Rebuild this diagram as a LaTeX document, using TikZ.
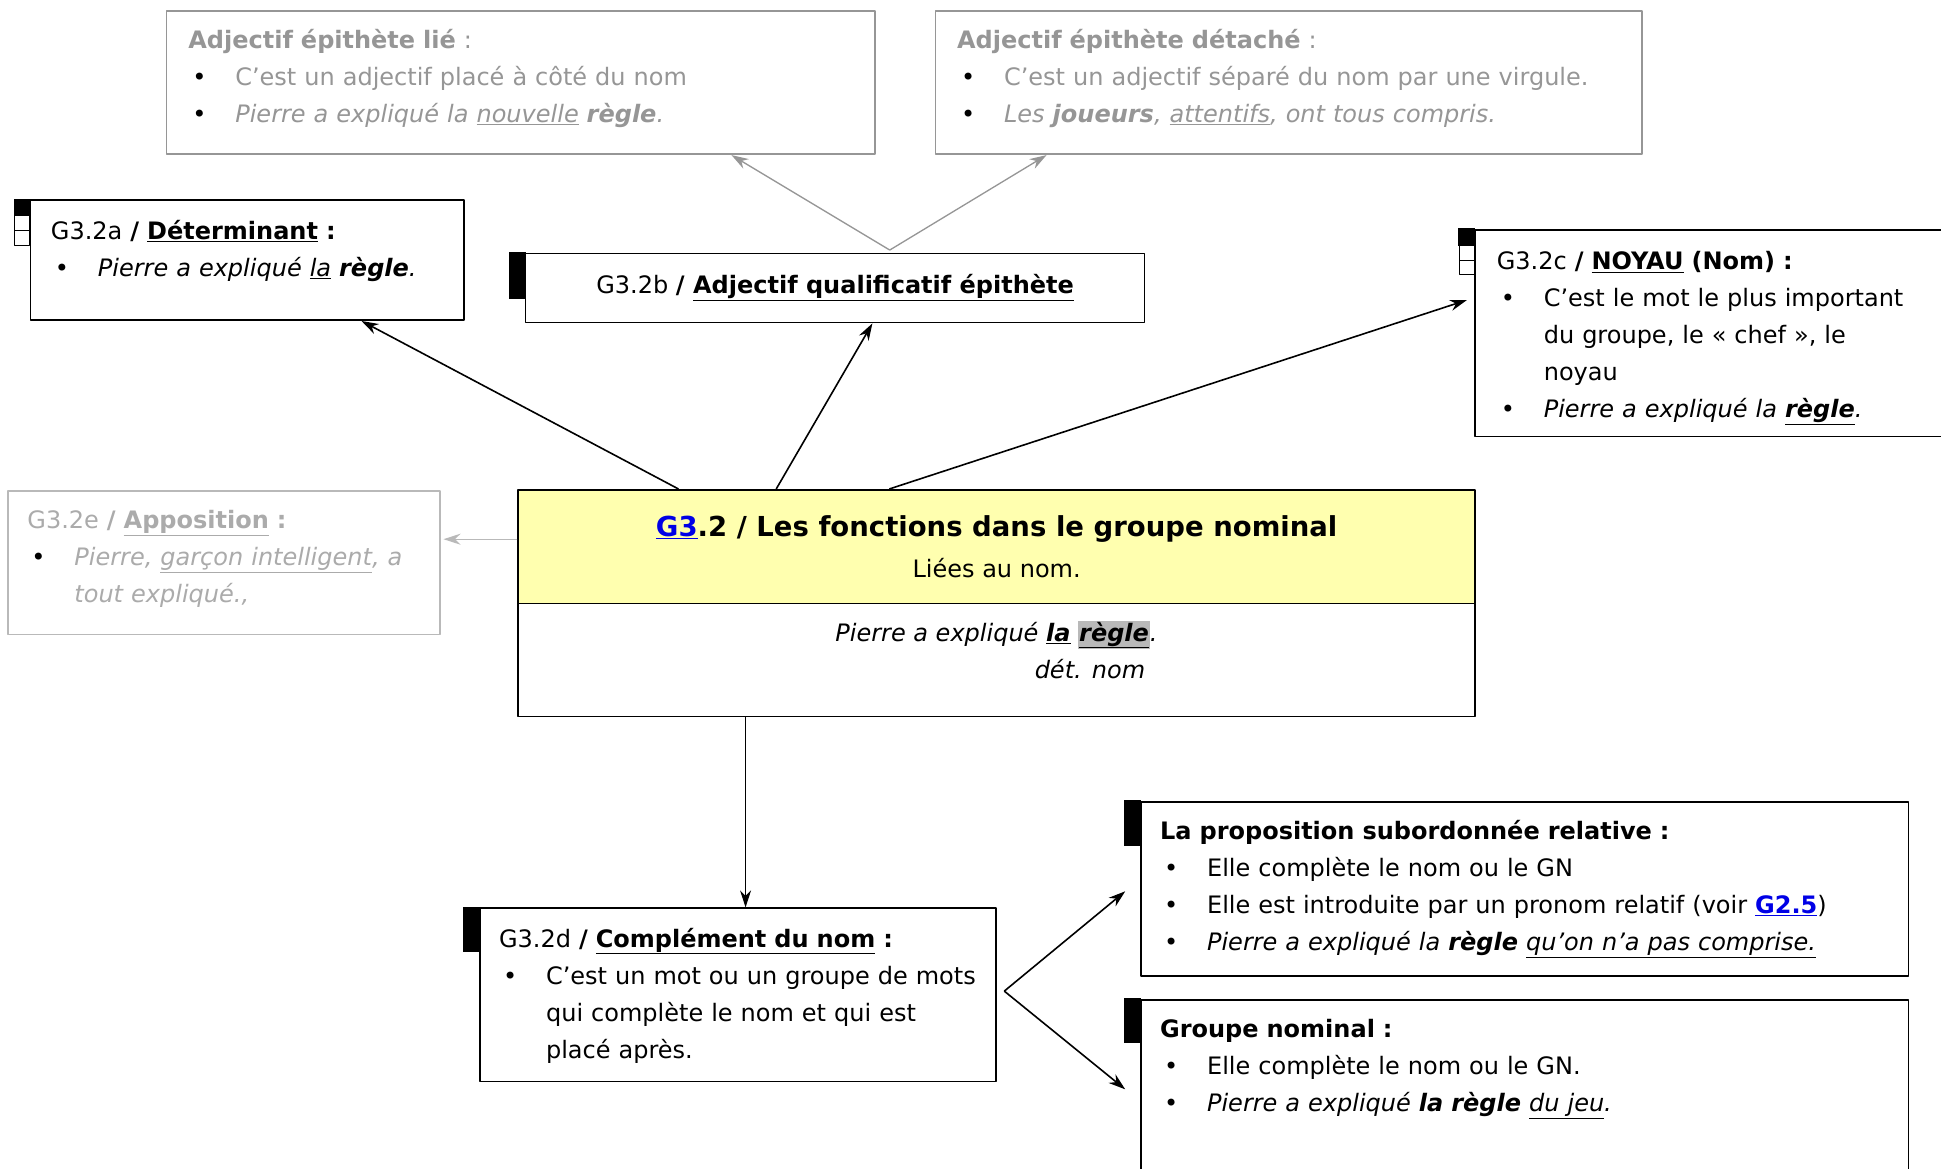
\documentclass[tikz,border=0pt]{standalone}
\usepackage{fontspec}
\setmainfont{DejaVu Sans}
\usetikzlibrary{arrows.meta,calc}

\definecolor{grisA}{RGB}{150,150,150}
\definecolor{grisB}{RGB}{185,185,185}
\definecolor{jaunePale}{RGB}{255,255,175}
\definecolor{lienBleu}{RGB}{0,0,230}

\newcommand\puce{\par\noindent\makebox[47pt][l]{\hspace{4pt}\textcolor{black}{\textbullet}}}
\newcommand\suite{\par\noindent\hspace*{47pt}}
\newcommand\souligne[1]{\underline{#1}}
\setlength{\fboxsep}{1pt}

\begin{document}
\begin{tikzpicture}[
        x = 1.238pt, y = -1.238pt,
        line join=round,
        cadre/.style = {draw, line width=1.6pt, inner sep=0pt, anchor=north west},
        cadregris/.style = {cadre, draw=grisA},
        cadrepale/.style = {cadre, draw=grisB},
        boite/.style 2 args = {minimum width=#1*1.238pt, minimum height=#2*1.238pt},
        corps/.style = {font=\fontsize{24}{37}\selectfont},
        texte/.style = {corps, anchor=north west, inner sep=0pt, text width=#1*1.238pt, align=left},
        fleche/.style = {-{Stealth[length=17pt,width=11pt]}, line width=1.6pt}
    ]

    \useasboundingbox[fill=white] (0,0) rectangle (1568,944);

    % cadres
    \node[cadregris, boite={572}{116}] (adjLie) at (134,8) {};
    \node[cadregris, boite={571}{116}] (adjDet) at (755,8) {};
    \node[cadre, boite={350}{97}] (detA) at (24,161) {};
    \node[cadre, boite={500}{56}, corps] (adjB) at (424,204)
        {G3.2b \textbf{/ \souligne{Adjectif qualificatif épithète}}};
    \node[cadre, boite={390}{167}] (noyau) at (1191,185) {};
    \node[cadrepale, boite={349}{116}] (appos) at (6,396) {};
    \node[cadre, boite={773}{92}, fill=jaunePale, align=center] (haut) at (418,395)
        {\fontsize{27.5}{34}\selectfont\bfseries\textcolor{lienBleu}{\souligne{G3}}.2 / Les fonctions dans le groupe nominal\\[15pt]
         \fontsize{24}{30}\selectfont\mdseries Liées au nom.};
    \node[cadre, boite={773}{91}] (bas) at (418,487) {};
    \node[cadre, boite={417}{140}] (compl) at (387,733) {};
    \node[cadre, boite={620}{141}] (relat) at (921,647) {};
    \node[cadre, boite={620}{160}] (gnom) at (921,807) {};

    % reperes noirs
    \foreach \b/\h in {adjB/38, compl/37, relat/37, gnom/36} {
        \fill ($(\b.north west)+(0.8,-0.6)$) rectangle ++(-13.8,\h);
    }
    \foreach \b in {detA, noyau} {
        \fill ($(\b.north west)+(0.8,-0.6)$) rectangle ++(-13.8,14);
        \draw[line width=0.8pt] ($(\b.north west)+(0,13)$) rectangle ++(-12,12);
        \draw[line width=0.8pt] ($(\b.north west)+(0,25)$) rectangle ++(-12,12);
    }

    % textes
    \node[texte=550, text=grisA] (tLie) at ($(adjLie.north west)+(18,10)$)
        {\strut\textbf{Adjectif épithète lié} :
         \puce C'est un adjectif placé à côté du nom
         \puce \textit{Pierre a expliqué la \souligne{nouvelle} \textbf{règle}.}};
    \node[texte=550, text=grisA] (tDet) at ($(adjDet.north west)+(18,10)$)
        {\strut\textbf{Adjectif épithète détaché} :
         \puce C'est un adjectif séparé du nom par une virgule.
         \puce \textit{Les \textbf{joueurs}, \souligne{attentifs}, ont tous compris.}};
    \node[texte=340] (tDetA) at ($(detA.north west)+(17,11)$)
        {\strut G3.2a \textbf{/ \souligne{Déterminant} :}
         \puce \textit{Pierre a expliqué \souligne{la} \textbf{règle}.}};
    \node[texte=380] (tNoyau) at ($(noyau.north west)+(18,12)$)
        {\strut G3.2c \textbf{/ \souligne{NOYAU} (Nom) :}
         \puce C'est le mot le plus important
         \suite du groupe, le « chef », le
         \suite noyau
         \puce \textit{Pierre a expliqué la \souligne{\textbf{règle}}.}};
    \node[texte=400, text=grisA!80] (tAppos) at ($(appos.north west)+(16,10)$)
        {\strut G3.2e \textbf{/ \souligne{Apposition} :}
         \puce \textit{Pierre, \souligne{garçon intelligent}, a}
         \suite \textit{tout expliqué.,}};
    \node[corps, inner sep=0pt] (phrase) at (805,513)
        {\textit{Pierre a expliqué \souligne{\textbf{la}} \colorbox{grisB}{\souligne{\textbf{règle}}}.}};
    \node[corps, inner sep=0pt, anchor=north east] (etiq) at ($(phrase.south east)+(-10,8)$)
        {\textit{dét. nom}};
    \node[texte=420] (tCompl) at ($(compl.north west)+(16,11)$)
        {\strut G3.2d \textbf{/ \souligne{Complément du nom} :}
         \puce C'est un mot ou un groupe de mots
         \suite qui complète le nom et qui est
         \suite placé après.};
    \node[texte=620] (tRelat) at ($(relat.north west)+(16,10)$)
        {\strut\textbf{La proposition subordonnée relative :}
         \puce Elle complète le nom ou le GN
         \puce Elle est introduite par un pronom relatif (voir \textcolor{lienBleu}{\souligne{\textbf{G2.5}}})
         \puce \textit{Pierre a expliqué la \textbf{règle} \souligne{qu'on n'a pas comprise.}}};
    \node[texte=620] (tGnom) at ($(gnom.north west)+(16,10)$)
        {\strut\textbf{Groupe nominal :}
         \puce Elle complète le nom ou le GN.
         \puce \textit{Pierre a expliqué \textbf{la règle} \souligne{du jeu}.}};

    % fleches
    \draw[fleche] ($(haut.north west)!0.168!(haut.north east)$) -- ($(detA.south west)!0.763!(detA.south east)$);
    \draw[fleche] ($(haut.north west)!0.270!(haut.north east)$) -- ($(adjB.south west)!0.56!(adjB.south east)$);
    \draw[fleche] ($(haut.north west)!0.388!(haut.north east)$) -- ($(noyau.north west)!0.341!(noyau.south west)+(-6,0)$);

    \coordinate (jonction) at ($(adjB.north west)!0.588!(adjB.north east)+(0,-2)$);
    \draw[fleche, draw=grisA, fill=grisA, line width=1.3pt] (jonction) -- ($(adjLie.south west)!0.797!(adjLie.south east)$);
    \draw[fleche, draw=grisA, fill=grisA, line width=1.3pt] (jonction) -- ($(adjDet.south west)!0.158!(adjDet.south east)$);

    \coordinate (depart) at ($(haut.north west)!0.435!(haut.south west)$);
    \draw[fleche, draw=grisB, fill=grisB, line width=1.3pt] (depart) -- ($(depart -| appos.east)+(2,0)$);

    \coordinate (bas1) at ($(bas.south west)!0.238!(bas.south east)$);
    \draw[fleche, line width=1.2pt] (bas1) -- (bas1 |- compl.north);

    \coordinate (fourche) at ($(compl.east)+(6,-3)$);
    \draw[fleche] (fourche) -- ($(relat.north west)+(-12,73)$);
    \draw[fleche] (fourche) -- ($(gnom.north west)+(-12,73)$);

\end{tikzpicture}
\end{document}
